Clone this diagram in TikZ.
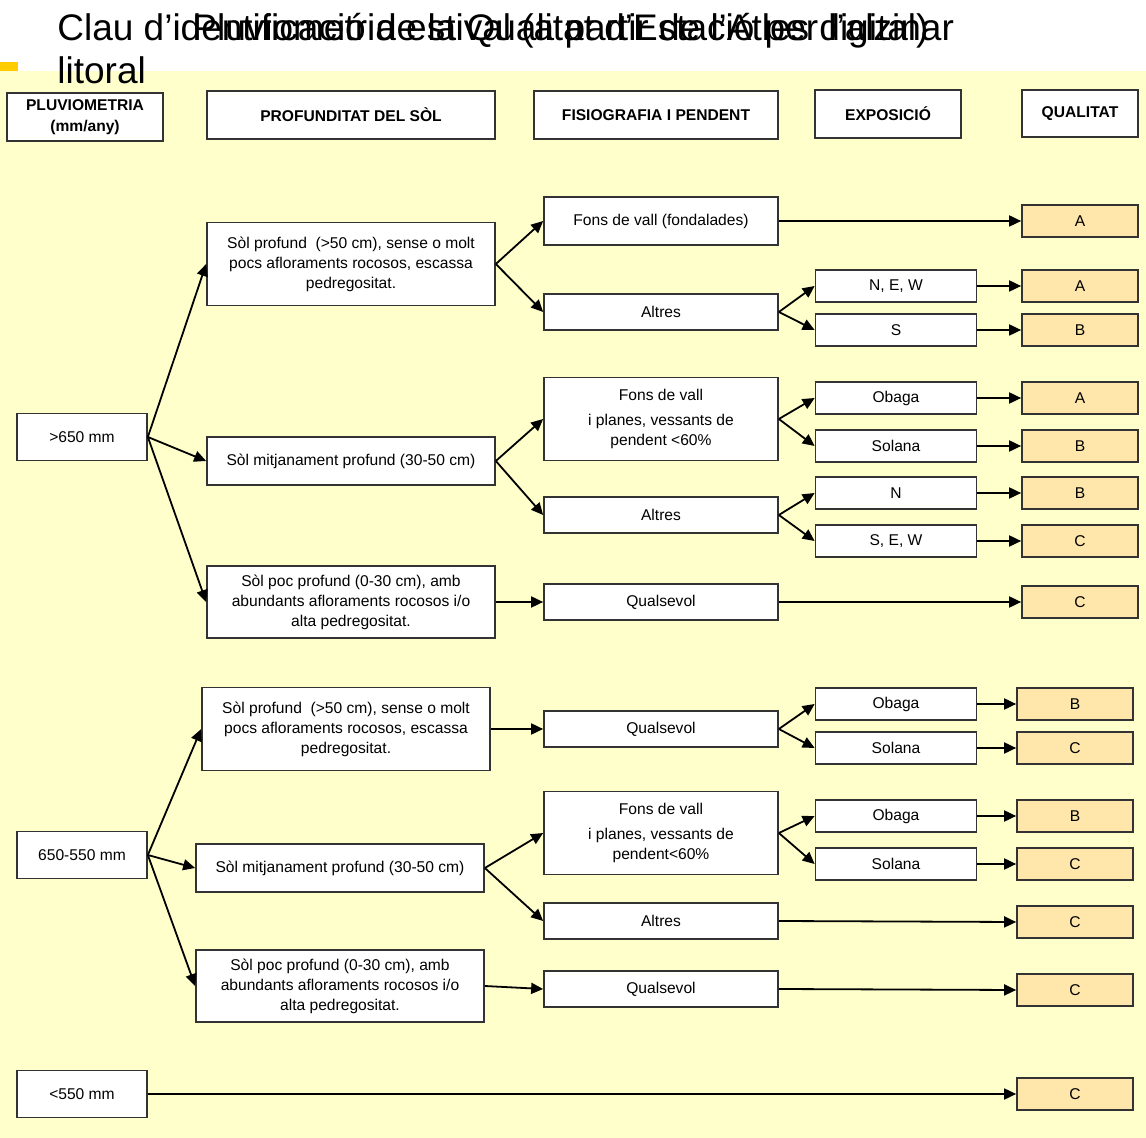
\documentclass[tikz,border=0pt]{standalone}
\usepackage{fontspec}
\setmainfont{Liberation Sans}
\usetikzlibrary{arrows.meta}
\definecolor{fonsgroc}{HTML}{FFFFCC}
\definecolor{vinyeta}{HTML}{FFCC00}
\definecolor{qualitat}{HTML}{FFE6AA}
\tikzset{
    caixa/.style={draw=black!80, fill=white, line width=0.85pt, inner sep=0pt, align=center, font=\fontsize{7.8}{10}\selectfont},
    capcalera/.style={caixa, font=\fontsize{7.8}{10.5}\selectfont\bfseries, minimum height=24pt},
    pluv/.style={caixa, minimum width=65pt, minimum height=23.5pt},
    sol/.style={caixa, minimum width=144pt},
    fisio/.style={caixa, minimum width=117pt},
    expo/.style={caixa, minimum width=80.5pt, minimum height=16pt},
    nota/.style={caixa, fill=qualitat, minimum width=58pt, minimum height=16pt},
    fletxa/.style={-{Triangle[length=6pt,width=5.5pt]}, line width=0.9pt},
    titol/.style={anchor=base west, inner sep=0pt, font=\fontsize{18.5}{21.5}\selectfont},
  }
\begin{document}
\begin{tikzpicture}[x=0.5pt,y=-0.5pt]
				  \useasboundingbox (0,0) rectangle (1146,1138);
				  %FONS
				  \fill[fonsgroc] (0,71) rectangle (1146,1138);
				  \fill[vinyeta] (0,62) rectangle (18,71);
				  
				  %TITOL
				  \node[titol] (titolA) at (57,41) {Clau d’identificació de la Qualitat d’Estació per l’alzinar};
				  \node[titol] (titolB) at (57,84) {litoral};
				  \node[titol] (titolC) at (192,41) {Pluviometria estival (a partir de l’Atles digital)};
				  
				  %CAPCALERA
				  \node[capcalera, minimum width=78pt] (hpluv) at (85,117) {PLUVIOMETRIA\\(mm/any)};
				  \node[capcalera, minimum width=144pt] (hprof) at (351,115) {PROFUNDITAT DEL SÒL};
				  \node[capcalera, minimum width=122pt] (hfisio) at (656,115) {FISIOGRAFIA I PENDENT};
				  \node[capcalera, minimum width=73pt] (hexpo) at (888,114) {EXPOSICIÓ};
				  \node[capcalera, minimum width=58pt, minimum height=23.5pt] (hqual) at (1080,113.5) {QUALITAT};
				  
				  %PLUVIOMETRIA >650 mm
				  \node[pluv] (P1) at (82,437) {>650 mm};
				  \node[sol, minimum height=41.5pt] (S11) at (351,264) {Sòl profund\ \ (>50 cm), sense o molt\\pocs afloraments rocosos, escassa\\pedregositat.};
				  \node[sol, minimum height=24pt] (S12) at (351,461) {Sòl mitjanament profund (30-50 cm)};
				  \node[sol, minimum height=36pt] (S13) at (351,602) {Sòl poc profund (0-30 cm), amb\\abundants afloraments rocosos i/o\\alta pedregositat.};
				  \node[fisio, minimum height=24pt] (F11) at (661,221) {Fons de vall (fondalades)};
				  \node[fisio, minimum height=18pt] (F12) at (661,312) {Altres};
				  \node[fisio, minimum height=41.5pt] (F13) at (661,419) {Fons de vall\\[2.5pt]i planes, vessants de\\pendent <60\%};
				  \node[fisio, minimum height=18pt] (F14) at (661,515) {Altres};
				  \node[fisio, minimum height=18pt] (F15) at (661,602) {Qualsevol};
				  \node[expo] (E11) at (896,286) {N, E, W};
				  \node[expo] (E12) at (896,330) {S};
				  \node[expo] (E13) at (896,398) {Obaga};
				  \node[expo] (E14) at (896,446) {Solana};
				  \node[expo] (E15) at (896,493) {N};
				  \node[expo] (E16) at (896,541) {S, E, W};
				  \node[nota] (Q11) at (1080,221) {A};
				  \node[nota] (Q12) at (1080,286) {A};
				  \node[nota] (Q13) at (1080,330) {B};
				  \node[nota] (Q14) at (1080,398) {A};
				  \node[nota] (Q15) at (1080,446) {B};
				  \node[nota] (Q16) at (1080,493) {B};
				  \node[nota] (Q17) at (1080,541) {C};
				  \node[nota] (Q18) at (1080,602) {C};
				  
				  \draw[fletxa] (P1.east) -- (S11.west);
				  \draw[fletxa] (P1.east) -- (S12.west);
				  \draw[fletxa] (P1.east) -- (S13.west);
				  \draw[fletxa] (S11.east) -- (F11.west);
				  \draw[fletxa] (S11.east) -- (F12.west);
				  \draw[fletxa] (S12.east) -- (F13.west);
				  \draw[fletxa] (S12.east) -- (F14.west);
				  \draw[fletxa] (S13.east) -- (F15.west);
				  \draw[fletxa] (F12.east) -- (E11.west);
				  \draw[fletxa] (F12.east) -- (E12.west);
				  \draw[fletxa] (F13.east) -- (E13.west);
				  \draw[fletxa] (F13.east) -- (E14.west);
				  \draw[fletxa] (F14.east) -- (E15.west);
				  \draw[fletxa] (F14.east) -- (E16.west);
				  \draw[fletxa] (F11.east) -- (Q11.west);
				  \draw[fletxa] (E11.east) -- (Q12.west);
				  \draw[fletxa] (E12.east) -- (Q13.west);
				  \draw[fletxa] (E13.east) -- (Q14.west);
				  \draw[fletxa] (E14.east) -- (Q15.west);
				  \draw[fletxa] (E15.east) -- (Q16.west);
				  \draw[fletxa] (E16.east) -- (Q17.west);
				  \draw[fletxa] (F15.east) -- (Q18.west);
				  
				  %PLUVIOMETRIA 650-550 mm
				  \node[pluv] (P2) at (82,855) {650-550 mm};
				  \node[sol, minimum height=41.5pt] (S21) at (346,729) {Sòl profund\ \ (>50 cm), sense o molt\\pocs afloraments rocosos, escassa\\pedregositat.};
				  \node[sol, minimum height=24pt] (S22) at (340,868) {Sòl mitjanament profund (30-50 cm)};
				  \node[sol, minimum height=36pt] (S23) at (340,986) {Sòl poc profund (0-30 cm), amb\\abundants afloraments rocosos i/o\\alta pedregositat.};
				  \node[fisio, minimum height=18pt] (F21) at (661,729) {Qualsevol};
				  \node[fisio, minimum height=41.5pt] (F22) at (661,833) {Fons de vall\\[2.5pt]i planes, vessants de\\pendent<60\%};
				  \node[fisio, minimum height=18pt] (F23) at (661,921) {Altres};
				  \node[fisio, minimum height=18pt] (F24) at (661,989) {Qualsevol};
				  \node[expo] (E21) at (896,704) {Obaga};
				  \node[expo] (E22) at (896,748) {Solana};
				  \node[expo] (E23) at (896,816) {Obaga};
				  \node[expo] (E24) at (896,864) {Solana};
				  \node[nota] (Q21) at (1075,704) {B};
				  \node[nota] (Q22) at (1075,748) {C};
				  \node[nota] (Q23) at (1075,816) {B};
				  \node[nota] (Q24) at (1075,864) {C};
				  \node[nota] (Q25) at (1075,922) {C};
				  \node[nota] (Q26) at (1075,990) {C};
				  
				  \draw[fletxa] (P2.east) -- (S21.west);
				  \draw[fletxa] (P2.east) -- (S22.west);
				  \draw[fletxa] (P2.east) -- (S23.west);
				  \draw[fletxa] (S21.east) -- (F21.west);
				  \draw[fletxa] (S22.east) -- (F22.west);
				  \draw[fletxa] (S22.east) -- (F23.west);
				  \draw[fletxa] (S23.east) -- (F24.west);
				  \draw[fletxa] (F21.east) -- (E21.west);
				  \draw[fletxa] (F21.east) -- (E22.west);
				  \draw[fletxa] (F22.east) -- (E23.west);
				  \draw[fletxa] (F22.east) -- (E24.west);
				  \draw[fletxa] (E21.east) -- (Q21.west);
				  \draw[fletxa] (E22.east) -- (Q22.west);
				  \draw[fletxa] (E23.east) -- (Q23.west);
				  \draw[fletxa] (E24.east) -- (Q24.west);
				  \draw[fletxa] (F23.east) -- (Q25.west);
				  \draw[fletxa] (F24.east) -- (Q26.west);
				  
				  %PLUVIOMETRIA <550 mm
				  \node[pluv] (P3) at (82,1094) {<550 mm};
				  \node[nota] (Q31) at (1075,1094) {C};
				  \draw[fletxa] (P3.east) -- (Q31.west);
\end{tikzpicture}
\end{document}
